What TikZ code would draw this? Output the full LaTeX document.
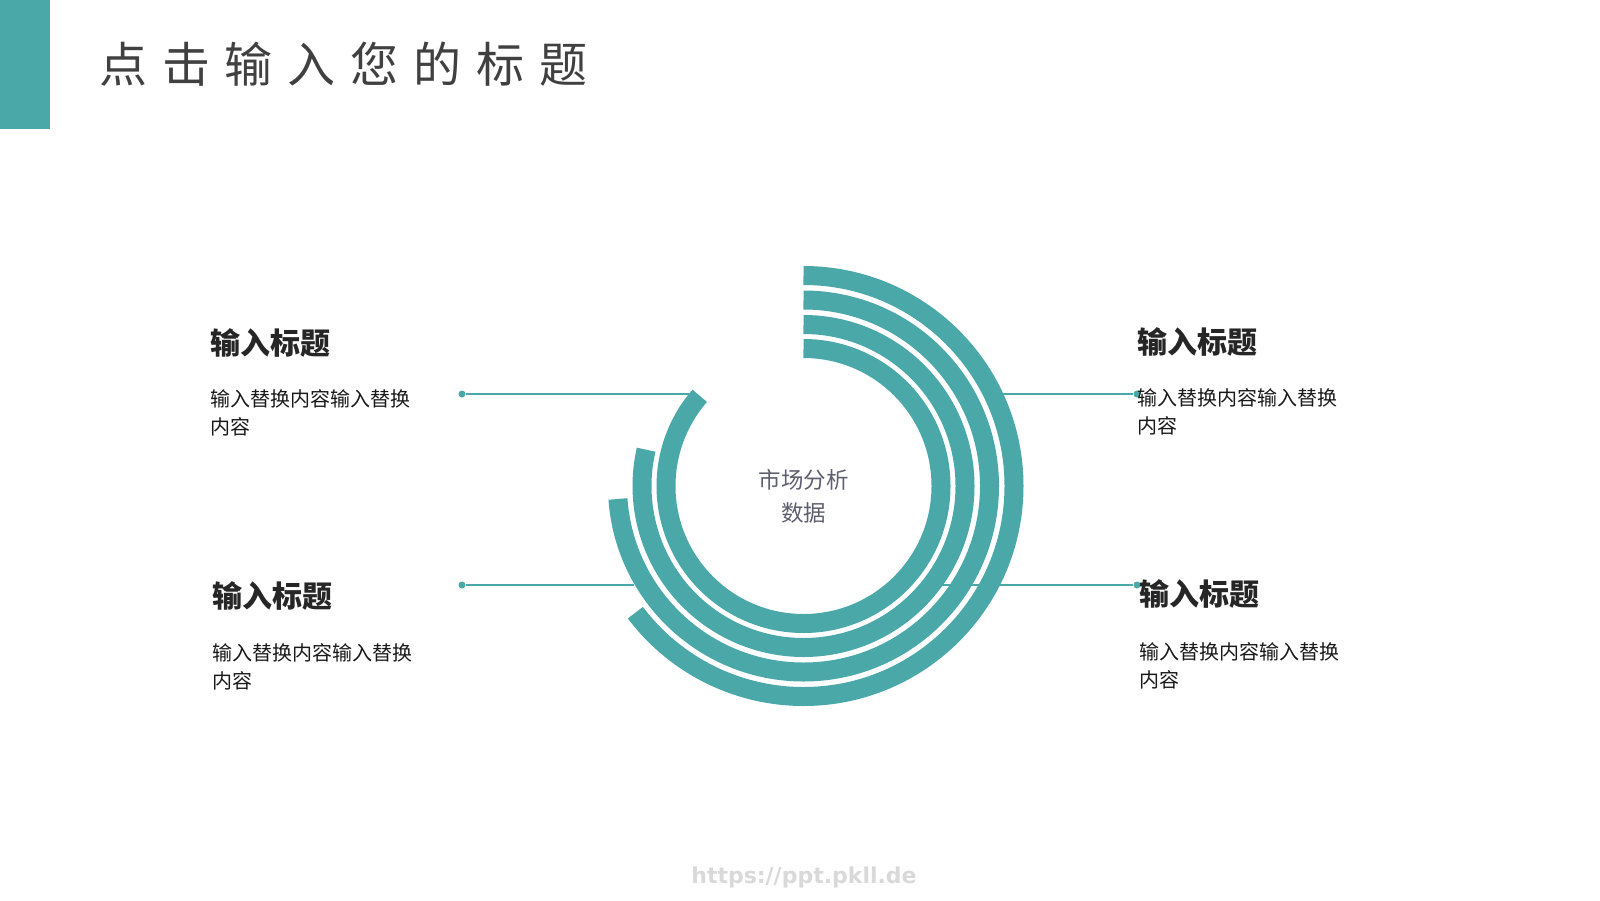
\documentclass[tikz,border=0pt]{standalone}
\usepackage{fontspec}
\usepackage{xcolor}
\usepackage{tikz}
\usetikzlibrary{positioning}
\newfontfamily\cjk{Noto Sans CJK SC}
\newfontfamily\cjktitle[LetterSpace=31]{Noto Sans CJK SC}
\newfontfamily\urlfont{DejaVu Sans}
\definecolor{seaTeal}{RGB}{75,168,169}
\definecolor{titleGray}{RGB}{64,64,64}
\definecolor{midGray}{RGB}{95,94,110}
\tikzset{
  title/.style={anchor=west, inner sep=0pt, text=titleGray,
                font=\cjktitle\fontsize{48}{56}\selectfont},
  head/.style={anchor=west, inner sep=0pt, text=black!85,
               font=\cjk\bfseries\fontsize{30}{36}\selectfont},
  body/.style={anchor=north west, inner sep=0pt, align=left, text=black!90,
               font=\cjk\fontsize{20}{28.5}\selectfont},
  hub/.style={align=center, inner sep=0pt, text=midGray,
              font=\cjk\fontsize{22.5}{33}\selectfont},
  dot/.style={circle, fill=seaTeal, inner sep=0pt, minimum size=7pt},
  link/.style={seaTeal, line width=1.2pt},
  band/.style={seaTeal, line width=19pt},
  wmark/.style={inner sep=0pt, text=black!15, font=\urlfont\bfseries\fontsize{22}{26}\selectfont},
}
\begin{document}
\begin{tikzpicture}[x=1pt, y=-1pt]
\useasboundingbox (0,0) rectangle (1600,900);
\fill[seaTeal] (0,0) rectangle (50,129);
\node[title] (ttl) at (99,64) {点击输入您的标题};

% connectors sit behind the rings
\node[dot] (d1) at (462,394) {};
\node[dot] (d2) at (1137,394) {};
\node[dot] (d3) at (462,585) {};
\node[dot] (d4) at (1137,585) {};
\coordinate (e1) at (690,394);
\coordinate (e2) at (990,394);
\coordinate (e3) at (634,585);
\coordinate (e4) at (925,585);
\draw[link] (d1) -- (e1);
\draw[link] (e2) -- (d2);
\draw[link] (d3) -- (e3);
\draw[link] (e4) -- (d4);

\coordinate (c) at (803.5,486);
\begin{scope}[shift={(c)}, yscale=-1]
  \foreach \r/\a in {210.5/-143, 186/-176, 161.5/-193, 137.5/-221}
    \draw[band] (90:\r) arc[start angle=90, end angle=\a, radius=\r];
\end{scope}
\node[hub] (mkt) at (803.5,496) {市场分析\\数据};

\node[head] (h1) at (210,343) {输入标题};
\node[body] (b1) at (210,389) {输入替换内容输入替换\\内容};
\node[head] (h2) at (1137,342) {输入标题};
\node[body] (b2) at (1137,388) {输入替换内容输入替换\\内容};
\node[head] (h3) at (212,596) {输入标题};
\node[body] (b3) at (212,643) {输入替换内容输入替换\\内容};
\node[head] (h4) at (1139,594) {输入标题};
\node[body] (b4) at (1139,642) {输入替换内容输入替换\\内容};

\node[wmark] (url) at (804,877) {https://ppt.pkll.de};
\end{tikzpicture}
\end{document}
